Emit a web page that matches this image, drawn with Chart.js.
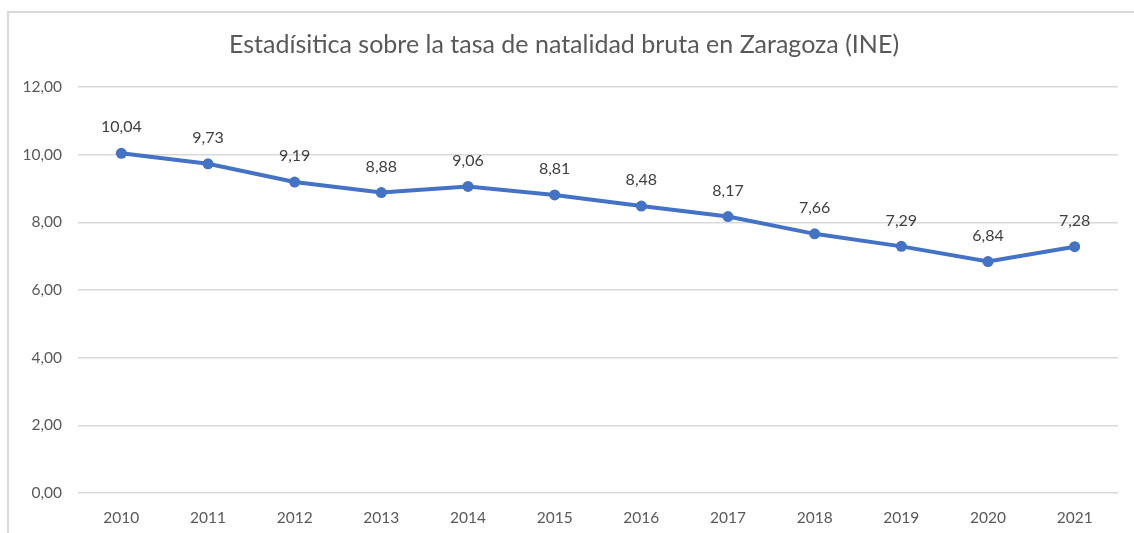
<!DOCTYPE html>
<html>
<head>
<meta charset="utf-8">
<script src="https://cdn.jsdelivr.net/npm/chart.js@4"></script>
<style>
  html, body { margin: 0; padding: 0; background: #fff; }
  #wrap { position: relative; width: 1134px; height: 533px; overflow: hidden; }
  #frame { position: absolute; left: 7px; top: 11px; width: 1200px; height: 600px;
           border-left: 2px solid #d9d9d9; border-top: 2px solid #d9d9d9; box-sizing: border-box; }
  canvas { position: absolute; left: 0; top: 0; }
</style>
</head>
<body>
<div id="wrap">
  <div id="frame"></div>
  <canvas id="chart" width="1134" height="533"></canvas>
</div>
<script>
// values
var YEARS = ['2010', '2011', '2012', '2013', '2014', '2015', '2016', '2017', '2018', '2019', '2020', '2021'];
var TASA = [10.04, 9.73, 9.19, 8.88, 9.06, 8.81, 8.48, 8.17, 7.66, 7.29, 6.84, 7.28];
var TITLE = 'Estadísitica sobre la tasa de natalidad bruta en Zaragoza (INE)';

var FONT = 'Lato, "Noto Sans", sans-serif';

function fmtComma(v) {
  return v.toFixed(2).replace('.', ',');
}

// simple value labels above each point
var pointLabels = {
  id: 'pointLabels',
  afterDatasetsDraw: function (chart) {
    var ctx = chart.ctx;
    var meta = chart.getDatasetMeta(0);
    var data = chart.data.datasets[0].data;
    ctx.save();
    ctx.font = '16px ' + FONT;
    ctx.fillStyle = '#404040';
    ctx.textAlign = 'center';
    ctx.textBaseline = 'middle';
    meta.data.forEach(function (pt, i) {
      ctx.fillText(fmtComma(data[i]), pt.x, pt.y - 26);
    });
    ctx.restore();
  }
};

new Chart(document.getElementById('chart'), {
  type: 'line',
  data: {
    labels: YEARS,
    datasets: [{
      data: TASA,
      borderColor: '#4472c4',
      backgroundColor: '#4472c4',
      borderWidth: 4,
      pointRadius: 5.5,
      pointBorderWidth: 0,
      tension: 0,
    }],
  },
  options: {
    responsive: false,
    animation: false,
    layout: { padding: { left: 10, right: 16, top: 20, bottom: 0 } },
    plugins: {
      legend: { display: false },
      tooltip: { enabled: false },
      title: {
        display: true,
        text: TITLE,
        color: '#595959',
        font: { family: FONT, size: 25, weight: 'normal' },
        padding: { top: 10, bottom: 27 },
      },
    },
    scales: {
      x: {
        offset: true,
        grid: { display: false, drawTicks: false },
        border: { display: false },
        ticks: { color: '#595959', font: { family: FONT, size: 15.5 }, padding: 16, maxRotation: 0 },
        afterFit: function (s) { s.height = 40; },
      },
      y: {
        min: 0,
        max: 12,
        ticks: {
          stepSize: 2,
          color: '#595959',
          font: { family: FONT, size: 15.5 },
          padding: 16,
          callback: function (v) { return fmtComma(v); },
        },
        grid: { color: '#d9d9d9', lineWidth: 1.5, drawTicks: false },
        border: { display: false },
        afterFit: function (s) { s.width = 68; },
      },
    },
  },
  plugins: [pointLabels],
});
</script>
</body>
</html>
